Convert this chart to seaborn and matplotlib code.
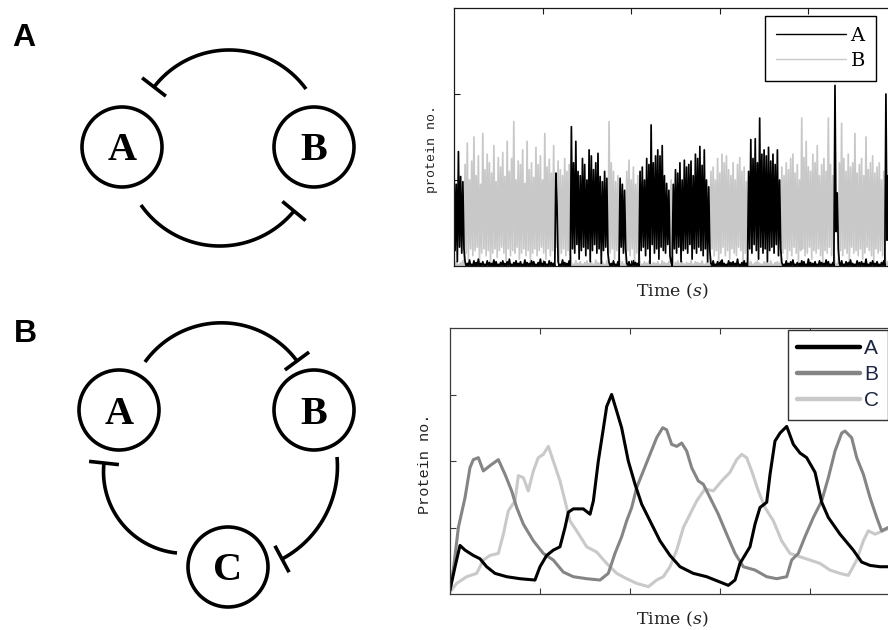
import numpy as np
import pandas as pd
import matplotlib
matplotlib.use("Agg")
import matplotlib.pyplot as plt
import seaborn as sns
from matplotlib.lines import Line2D
from matplotlib.patches import Circle

# ---------------- data: panel A (toggle switch, stochastic trace) ----------------
# protein number in hundredths, one peak (hi) and one trough (lo) per sample
sample_step = 0.025
A_hi = [115, 95, 133, 104, 98, 5, 3, 7, 2, 6,
        4, 8, 3, 5, 2, 6, 4, 3, 7, 5,
        2, 4, 6, 3, 5, 8, 2, 4, 6, 3,
        5, 2, 7, 4, 3, 6, 5, 2, 4, 8,
        3, 5, 2, 6, 4, 3, 108, 5, 2, 7,
        4, 3, 6, 162, 120, 145, 110, 105, 125, 118,
        100, 135, 128, 112, 120, 131, 104, 98, 110, 102,
        4, 3, 6, 2, 5, 102, 95, 88, 3, 5,
        2, 6, 4, 3, 110, 115, 100, 125, 118, 164,
        120, 128, 135, 128, 140, 105, 96, 88, 5, 95,
        112, 108, 120, 100, 123, 115, 118, 122, 105, 130,
        125, 139, 117, 135, 100, 92, 3, 6, 2, 5,
        4, 7, 3, 2, 6, 4, 5, 3, 8, 2,
        4, 6, 3, 110, 147, 125, 148, 120, 172, 130,
        135, 128, 138, 122, 130, 118, 135, 100, 4, 2,
        6, 3, 5, 7, 2, 4, 3, 6, 5, 2,
        8, 4, 3, 5, 2, 6, 4, 3, 7, 5,
        2, 4, 210, 85, 3, 6, 2, 5, 4, 7,
        3, 2, 6, 4, 5, 3, 8, 2, 4, 6,
        3, 5, 2, 4, 6, 200, 105, 115, 98, 110]
A_lo = [18, 5, 22, 15, 20, 0, 0, 0, 0, 0,
        0, 0, 0, 0, 0, 0, 0, 0, 0, 0,
        0, 0, 0, 0, 0, 0, 0, 0, 0, 0,
        0, 0, 0, 0, 0, 0, 0, 0, 0, 0,
        0, 0, 0, 0, 0, 0, 70, 0, 0, 0,
        0, 0, 0, 20, 15, 25, 8, 18, 22, 12,
        20, 5, 18, 25, 15, 20, 3, 18, 22, 15,
        0, 0, 0, 0, 0, 22, 15, 20, 0, 0,
        0, 0, 0, 0, 18, 22, 12, 20, 3, 25,
        15, 20, 8, 22, 18, 15, 25, 12, 0, 20,
        15, 22, 5, 18, 20, 15, 25, 8, 20, 15,
        22, 18, 12, 20, 5, 18, 0, 0, 0, 0,
        0, 0, 0, 0, 0, 0, 0, 0, 0, 0,
        0, 0, 0, 20, 15, 25, 18, 8, 22, 15,
        20, 5, 18, 22, 15, 25, 12, 20, 0, 0,
        0, 0, 0, 0, 0, 0, 0, 0, 0, 0,
        0, 0, 0, 0, 0, 0, 0, 0, 0, 0,
        0, 0, 40, 20, 0, 0, 0, 0, 0, 0,
        0, 0, 0, 0, 0, 0, 0, 0, 0, 0,
        0, 0, 0, 0, 0, 30, 18, 22, 15, 20]
B_hi = [3, 5, 2, 4, 6, 118, 143, 100, 122, 150,
        105, 128, 95, 154, 112, 130, 120, 108, 140, 98,
        126, 115, 132, 104, 145, 110, 125, 168, 100, 122,
        118, 135, 96, 145, 112, 120, 103, 138, 118, 128,
        100, 154, 115, 124, 108, 140, 96, 122, 112, 105,
        125, 110, 118, 4, 2, 6, 3, 5, 2, 4,
        6, 3, 5, 2, 7, 4, 3, 5, 2, 6,
        168, 120, 110, 98, 105, 3, 5, 2, 110, 123,
        100, 115, 95, 105, 4, 2, 5, 3, 6, 2,
        4, 3, 5, 2, 6, 4, 3, 5, 100, 2,
        4, 6, 3, 5, 2, 4, 3, 6, 2, 5,
        4, 3, 6, 2, 4, 5, 110, 115, 100, 125,
        108, 130, 120, 128, 112, 105, 120, 100, 118, 126,
        110, 115, 98, 3, 5, 2, 4, 6, 3, 2,
        5, 4, 3, 6, 2, 4, 5, 3, 115, 105,
        120, 112, 125, 130, 108, 118, 100, 172, 126, 145,
        115, 110, 130, 120, 140, 105, 118, 125, 110, 172,
        118, 105, 4, 3, 120, 166, 125, 110, 130, 115,
        120, 154, 108, 118, 125, 105, 150, 112, 120, 128,
        108, 115, 120, 100, 110, 3, 5, 2, 4, 6]
B_lo = [0, 0, 0, 0, 0, 15, 8, 20, 12, 18,
        22, 5, 15, 20, 12, 18, 3, 15, 20, 10,
        18, 22, 15, 6, 20, 12, 18, 15, 22, 8,
        15, 20, 12, 18, 4, 15, 20, 12, 18, 22,
        15, 8, 20, 12, 18, 15, 22, 5, 15, 20,
        12, 18, 15, 0, 0, 0, 0, 0, 0, 0,
        0, 0, 0, 0, 0, 0, 0, 0, 0, 0,
        15, 20, 8, 18, 12, 0, 0, 0, 18, 12,
        20, 5, 15, 18, 0, 0, 0, 0, 0, 0,
        0, 0, 0, 0, 0, 0, 0, 0, 15, 0,
        0, 0, 0, 0, 0, 0, 0, 0, 0, 0,
        0, 0, 0, 0, 0, 0, 20, 12, 18, 5,
        15, 22, 12, 18, 8, 20, 15, 12, 22, 18,
        4, 15, 20, 0, 0, 0, 0, 0, 0, 0,
        0, 0, 0, 0, 0, 0, 0, 0, 15, 20,
        8, 18, 12, 22, 15, 5, 18, 20, 12, 15,
        22, 8, 18, 15, 20, 12, 4, 18, 15, 22,
        12, 18, 0, 0, 18, 12, 20, 15, 5, 22,
        15, 18, 12, 20, 8, 15, 22, 18, 12, 4,
        20, 15, 18, 12, 15, 0, 0, 0, 0, 0]
for _name, _l in [("A_hi", A_hi), ("A_lo", A_lo), ("B_hi", B_hi), ("B_lo", B_lo)]:
    assert len(_l) == 200, (_name, len(_l))

# ---------------- data: panel B (repressilator) ----------------
rA_t = [0.0, 0.056, 0.111, 0.167, 0.259, 0.333, 0.407, 0.5, 0.63, 0.778, 0.944, 1.0, 1.074,
        1.148, 1.222, 1.278, 1.315, 1.37, 1.481, 1.556, 1.593, 1.648, 1.704, 1.741, 1.796,
        1.852, 1.907, 1.981, 2.056, 2.13, 2.222, 2.333, 2.444, 2.556, 2.704, 2.852, 3.0,
        3.093, 3.167, 3.222, 3.333, 3.389, 3.444, 3.519, 3.556, 3.611, 3.667, 3.741, 3.815,
        3.889, 3.963, 4.056, 4.13, 4.204, 4.333, 4.481, 4.574, 4.667, 4.778, 4.867, 5.0]
rA_v = [0.06, 0.41, 0.73, 0.66, 0.58, 0.53, 0.41, 0.31, 0.26, 0.23, 0.21, 0.41, 0.58,
        0.66, 0.71, 1.0, 1.23, 1.28, 1.28, 1.2, 1.4, 2.0, 2.49, 2.82, 3.0,
        2.75, 2.5, 2.0, 1.65, 1.35, 1.1, 0.8, 0.58, 0.41, 0.31, 0.26, 0.18,
        0.13, 0.21, 0.46, 0.71, 1.05, 1.3, 1.38, 1.8, 2.3, 2.42, 2.52, 2.25,
        2.12, 2.05, 1.83, 1.38, 1.15, 0.9, 0.66, 0.48, 0.43, 0.41, 0.41, 0.40]
rB_t = [0.0, 0.037, 0.093, 0.167, 0.222, 0.259, 0.315, 0.37, 0.444, 0.537, 0.611, 0.685,
        0.741, 0.815, 0.926, 1.037, 1.148, 1.259, 1.37, 1.519, 1.667, 1.759, 1.833, 1.907,
        1.963, 2.019, 2.074, 2.148, 2.222, 2.296, 2.363, 2.407, 2.463, 2.519, 2.574, 2.63,
        2.685, 2.759, 2.815, 2.889, 2.981, 3.074, 3.167, 3.259, 3.389, 3.519, 3.63, 3.741,
        3.796, 3.87, 3.944, 4.037, 4.13, 4.204, 4.278, 4.352, 4.389, 4.463, 4.519, 4.593,
        4.667, 4.741, 4.796, 4.867, 5.0]
rB_v = [0.06, 0.36, 1.0, 1.45, 1.9, 2.02, 2.05, 1.85, 1.93, 2.02, 1.8, 1.55,
        1.3, 1.05, 0.8, 0.61, 0.51, 0.33, 0.26, 0.23, 0.21, 0.31, 0.61, 0.86,
        1.1, 1.3, 1.6, 1.85, 2.1, 2.35, 2.5, 2.47, 2.25, 2.22, 2.27, 2.15,
        1.9, 1.7, 1.65, 1.45, 1.2, 0.9, 0.61, 0.41, 0.36, 0.26, 0.23, 0.26,
        0.51, 0.61, 0.86, 1.15, 1.4, 1.75, 2.15, 2.42, 2.45, 2.35, 2.05, 1.8,
        1.45, 1.15, 0.95, 1.0, 0.95]
rC_t = [0.0, 0.074, 0.185, 0.296, 0.37, 0.444, 0.537, 0.593, 0.648, 0.722, 0.759, 0.815,
        0.87, 0.926, 0.981, 1.037, 1.093, 1.148, 1.222, 1.278, 1.333, 1.407, 1.519, 1.63,
        1.741, 1.852, 1.963, 2.074, 2.204, 2.296, 2.37, 2.444, 2.519, 2.593, 2.667, 2.741,
        2.833, 2.926, 3.019, 3.111, 3.185, 3.241, 3.296, 3.352, 3.426, 3.5, 3.593, 3.685,
        3.778, 3.889, 4.0, 4.111, 4.222, 4.333, 4.426, 4.519, 4.593, 4.648, 4.722, 4.815,
        4.867, 5.0]
rC_v = [0.03, 0.16, 0.26, 0.31, 0.51, 0.58, 0.61, 0.9, 1.25, 1.4, 1.78, 1.75,
        1.55, 1.85, 2.05, 2.1, 2.22, 2.0, 1.7, 1.4, 1.1, 0.95, 0.71, 0.63,
        0.46, 0.31, 0.23, 0.16, 0.11, 0.21, 0.26, 0.41, 0.66, 1.0, 1.2, 1.4,
        1.58, 1.55, 1.7, 1.83, 2.02, 2.1, 2.05, 1.85, 1.55, 1.3, 1.1, 0.8,
        0.61, 0.56, 0.51, 0.46, 0.36, 0.31, 0.28, 0.51, 0.8, 0.95, 0.9, 0.95,
        0.98, 1.0]
labels_top = ["A", "B"]
labels_bottom = ["A", "B", "C"]
x_ticks = [1, 2, 3, 4]

# ---------------- style ----------------
sns.set_theme(style="white")
plt.rcParams["font.family"] = ["DejaVu Sans"]
plt.rcParams["mathtext.fontset"] = "dejavuserif"
plt.rcParams["text.color"] = "black"

W, H = 888, 630
fig = plt.figure(figsize=(W / 100, H / 100), dpi=100)
fig.patch.set_facecolor("white")

# ---------------- network diagrams ----------------
axd = fig.add_axes([0, 0, 1, 1])
axd.set_xlim(0, W)
axd.set_ylim(H, 0)
axd.axis("off")

LW = 2.6


def circle3(p1, p2, p3):
    (x1, y1), (x2, y2), (x3, y3) = p1, p2, p3
    d = 2 * (x1 * (y2 - y3) + x2 * (y3 - y1) + x3 * (y1 - y2))
    ux = ((x1**2 + y1**2) * (y2 - y3) + (x2**2 + y2**2) * (y3 - y1) + (x3**2 + y3**2) * (y1 - y2)) / d
    uy = ((x1**2 + y1**2) * (x3 - x2) + (x2**2 + y2**2) * (x1 - x3) + (x3**2 + y3**2) * (x2 - x1)) / d
    return ux, uy, np.hypot(x1 - ux, y1 - uy)


def inhibit(ax, p1, pm, p3, bar=15):
    cx, cy, r = circle3(p1, pm, p3)
    a1 = np.arctan2(p1[1] - cy, p1[0] - cx)
    am = np.arctan2(pm[1] - cy, pm[0] - cx)
    a3 = np.arctan2(p3[1] - cy, p3[0] - cx)
    tw = 2 * np.pi
    dm = (am - a1) % tw
    d3 = (a3 - a1) % tw
    if dm < d3:
        angs = np.linspace(a1, a1 + d3, 120)
    else:
        angs = np.linspace(a1, a1 - (tw - d3), 120)
    ax.plot(cx + r * np.cos(angs), cy + r * np.sin(angs), color="black", lw=LW,
            solid_capstyle="butt")
    ux, uy = np.cos(angs[-1]), np.sin(angs[-1])
    ex, ey = cx + r * ux, cy + r * uy
    ax.plot([ex - bar * ux, ex + bar * ux], [ey - bar * uy, ey + bar * uy], color="black",
            lw=LW, solid_capstyle="butt")


def node(ax, x, y, name):
    ax.add_patch(Circle((x, y), 40, fill=False, lw=LW, ec="black"))
    ax.text(x, y + 13.5, name, ha="center", va="baseline", fontsize=29, color="black",
            family="Liberation Serif", fontweight="bold")


# panel A: toggle switch
node(axd, 122, 147, "A")
node(axd, 314, 147, "B")
inhibit(axd, (306, 89), (230, 50), (154, 87))
inhibit(axd, (141, 205), (220, 246), (294, 211))
# panel B: repressilator
node(axd, 119, 410, "A")
node(axd, 314, 410, "B")
node(axd, 228, 567, "C")
inhibit(axd, (145, 362), (227, 323), (297, 361))
inhibit(axd, (337, 457), (328, 510), (282, 559))
inhibit(axd, (177, 553), (113, 510), (104, 463))

axd.text(12, 46, "A", fontsize=23, fontweight="bold", family="Liberation Sans", color="black")
axd.text(14, 342, "B", fontsize=23, fontweight="bold", family="Liberation Sans", color="black")

# ---------------- time-course axes ----------------
def style_axes(ax, ylim, yticks, spine_color):
    ax.set_xlim(0, 5)
    ax.set_ylim(*ylim)
    ax.set_xticks(x_ticks)
    ax.set_yticks(yticks)
    ax.set_xticklabels([])
    ax.set_yticklabels([])
    ax.tick_params(direction="in", length=4, width=0.8, top=True, bottom=True, left=True,
                   right=False, color=spine_color)
    for s in ax.spines.values():
        s.set_color(spine_color)
        s.set_linewidth(0.9)
        s.set_visible(True)


# top: stochastic toggle
axA = fig.add_axes([454 / W, 1 - 266 / H, 443 / W, 258 / H])
t = np.arange(len(A_hi)) * sample_step
tz = np.column_stack([t, t + sample_step / 2]).ravel()
yA = np.column_stack([np.array(A_hi), np.array(A_lo)]).ravel() / 100
yB = np.column_stack([np.array(B_hi), np.array(B_lo)]).ravel() / 100
top_df = pd.DataFrame({"t": np.concatenate([tz, tz]),
                       "v": np.concatenate([yB, yA]),
                       "s": ["B"] * len(tz) + ["A"] * len(tz)})
col_top = {"A": "black", "B": "#c8c8c8"}
for s in ["B", "A"]:
    sub = top_df[top_df.s == s]
    sns.lineplot(data=sub, x="t", y="v", ax=axA, color=col_top[s], lw=1.25, sort=False,
                 estimator=None)
style_axes(axA, (0, 3), [1, 2], "#1a1a1a")
axA.set_xlabel("Time ($s$)", family="DejaVu Serif", fontsize=12.5, color="#222222")
axA.xaxis.set_label_coords(0.492, -0.062)
axA.set_ylabel("protein no.", family="Liberation Mono", fontsize=9.5, color="#222222")
axA.yaxis.set_label_coords(-0.036, 0.455)
hA = [Line2D([], [], color=col_top[k], lw=1.0) for k in labels_top]
legA = axA.legend(hA, labels_top, loc="upper left", bbox_to_anchor=(765 / W, 1 - 16 / H),
                  bbox_transform=fig.transFigure, frameon=True, fancybox=False,
                  edgecolor="black", framealpha=1, borderpad=0.55, borderaxespad=0,
                  handlelength=3.6, handletextpad=0.25, labelspacing=0.38,
                  prop={"family": "DejaVu Serif", "size": 14})
legA.get_frame().set_linewidth(1.0)

# bottom: repressilator
axB = fig.add_axes([450 / W, 1 - 594 / H, 450 / W, 266 / H])
bot_df = pd.concat([
    pd.DataFrame({"t": rA_t, "v": rA_v, "s": "A"}),
    pd.DataFrame({"t": rB_t, "v": rB_v, "s": "B"}),
    pd.DataFrame({"t": rC_t, "v": rC_v, "s": "C"}),
])
col_bot = {"A": "black", "B": "#858585", "C": "#c9c9c9"}
for s in ["C", "B", "A"]:
    sub = bot_df[bot_df.s == s]
    sns.lineplot(data=sub, x="t", y="v", ax=axB, color=col_bot[s], lw=2.2, sort=False,
                 estimator=None)
style_axes(axB, (0, 4), [1, 2, 3], "#3a3a3a")
axB.set_xlabel("Time ($s$)", family="DejaVu Serif", fontsize=12.5, color="#222222")
axB.xaxis.set_label_coords(0.493, -0.058)
axB.set_ylabel("Protein no.", family="Liberation Mono", fontsize=11, color="#222222")
axB.yaxis.set_label_coords(-0.04, 0.49)
hB = [Line2D([], [], color=col_bot[k], lw=3.2) for k in labels_bottom]
legB = axB.legend(hB, labels_bottom, loc="upper left", bbox_to_anchor=(788 / W, 1 - 330 / H),
                  bbox_transform=fig.transFigure, frameon=True, fancybox=False,
                  edgecolor="#333333", framealpha=1, borderpad=0.45, borderaxespad=0,
                  handlelength=3.0, handletextpad=0.2, labelspacing=0.33,
                  prop={"family": "Liberation Sans", "size": 15}, labelcolor="#1c2541")
legB.get_frame().set_linewidth(1.0)

fig.savefig("out.png", dpi=100, facecolor="white")
